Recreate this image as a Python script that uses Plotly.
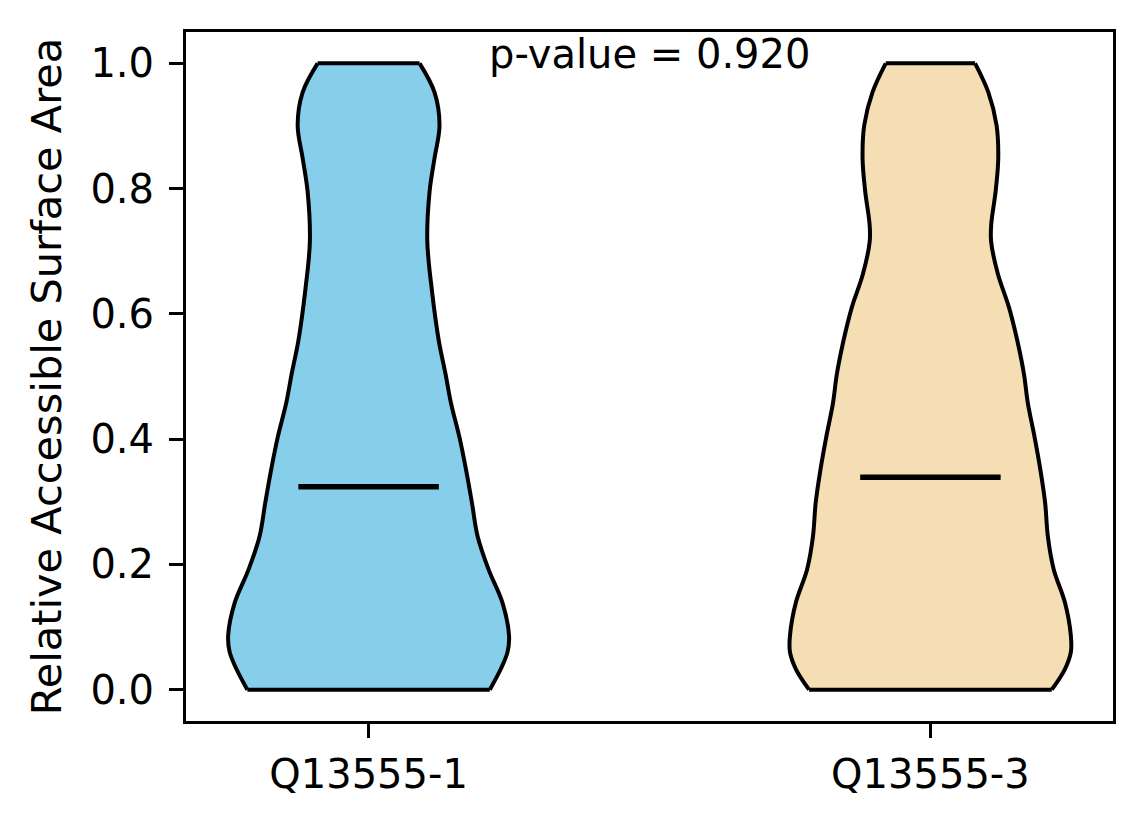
import plotly.graph_objects as go

# groups and stats
groups = ['Q13555-1', 'Q13555-3']
positions = [1, 2]
medians = [0.324, 0.339]
p_value = 0.920
fill_colors = ['#87CEEB', '#F5DEB3']

# violin outline: value levels and relative half-width (1 = widest)
blue_levels = [0.0, 0.033, 0.060, 0.086, 0.139, 0.192, 0.245, 0.298, 0.351, 0.404,
               0.457, 0.505, 0.557, 0.637, 0.716, 0.795, 0.848, 0.901, 0.954, 1.0]
blue_width = [0.863, 0.941, 0.989, 1.0, 0.953, 0.854, 0.776, 0.736, 0.694, 0.646,
              0.587, 0.547, 0.500, 0.451, 0.418, 0.434, 0.469, 0.505, 0.469, 0.363]

tan_levels = [0.0, 0.033, 0.060, 0.086, 0.139, 0.192, 0.245, 0.298, 0.351, 0.404,
              0.457, 0.504, 0.557, 0.610, 0.664, 0.716, 0.743, 0.795, 0.848, 0.901,
              0.954, 1.0]
tan_width = [0.864, 0.958, 1.0, 1.0, 0.958, 0.878, 0.836, 0.817, 0.783, 0.741,
             0.694, 0.666, 0.619, 0.560, 0.480, 0.432, 0.433, 0.464, 0.483, 0.471,
             0.412, 0.318]

shapes = [(blue_levels, blue_width), (tan_levels, tan_width)]
half = 0.25  # matplotlib default widths=0.5

fig = go.Figure()

edge = dict(color='black', width=4, shape='spline', smoothing=1.0)
for pos, (lv, wd), col in zip(positions, shapes, fill_colors):
    left = [pos - half * w for w in wd]
    right = [pos + half * w for w in wd]
    fig.add_trace(go.Scatter(x=left, y=lv, mode='lines', line=edge,
                             hoverinfo='skip', showlegend=False))
    fig.add_trace(go.Scatter(x=right, y=lv, mode='lines', line=edge, fill='tonextx',
                             fillcolor=col, hoverinfo='skip', showlegend=False))
    # flat ends of the violin (cut at data min / max)
    for i in (0, -1):
        fig.add_trace(go.Scatter(x=[left[i], right[i]], y=[lv[i], lv[i]], mode='lines',
                                 line=dict(color='black', width=4),
                                 hoverinfo='skip', showlegend=False))

for pos, med in zip(positions, medians):
    fig.add_trace(go.Scatter(x=[pos - half / 2, pos + half / 2], y=[med, med], mode='lines',
                             line=dict(color='black', width=5.5), showlegend=False))

fig.add_annotation(text=f'p-value = {p_value:.3f}', x=0.5, y=1.005, xref='x domain', yref='y domain',
                   xanchor='center', yanchor='top', showarrow=False,
                   font=dict(size=40, color='black'))

axis_style = dict(showline=True, linecolor='black', linewidth=3, mirror=True,
                  ticks='outside', ticklen=14, tickwidth=3, tickcolor='black',
                  showgrid=False, zeroline=False, automargin=False)

fig.update_xaxes(range=[0.675, 2.325], tickvals=positions, ticktext=groups,
                 ticklabelstandoff=2, **axis_style)
fig.update_yaxes(range=[-0.05, 1.05], tickvals=[0, 0.2, 0.4, 0.6, 0.8, 1.0], tickformat='.1f',
                 ticklabelstandoff=7,
                 title=dict(text='Relative Accessible Surface Area', standoff=16,
                            font=dict(size=41.5, color='black')),
                 **axis_style)

# page body adds a small offset, so the figure is a bit smaller than the window
fig.update_layout(width=1136, height=816, plot_bgcolor='white', paper_bgcolor='white',
                  margin=dict(l=178, r=31, t=24, b=103),
                  font=dict(family='DejaVu Sans', size=40, color='black'))

fig.write_html('out.html')
